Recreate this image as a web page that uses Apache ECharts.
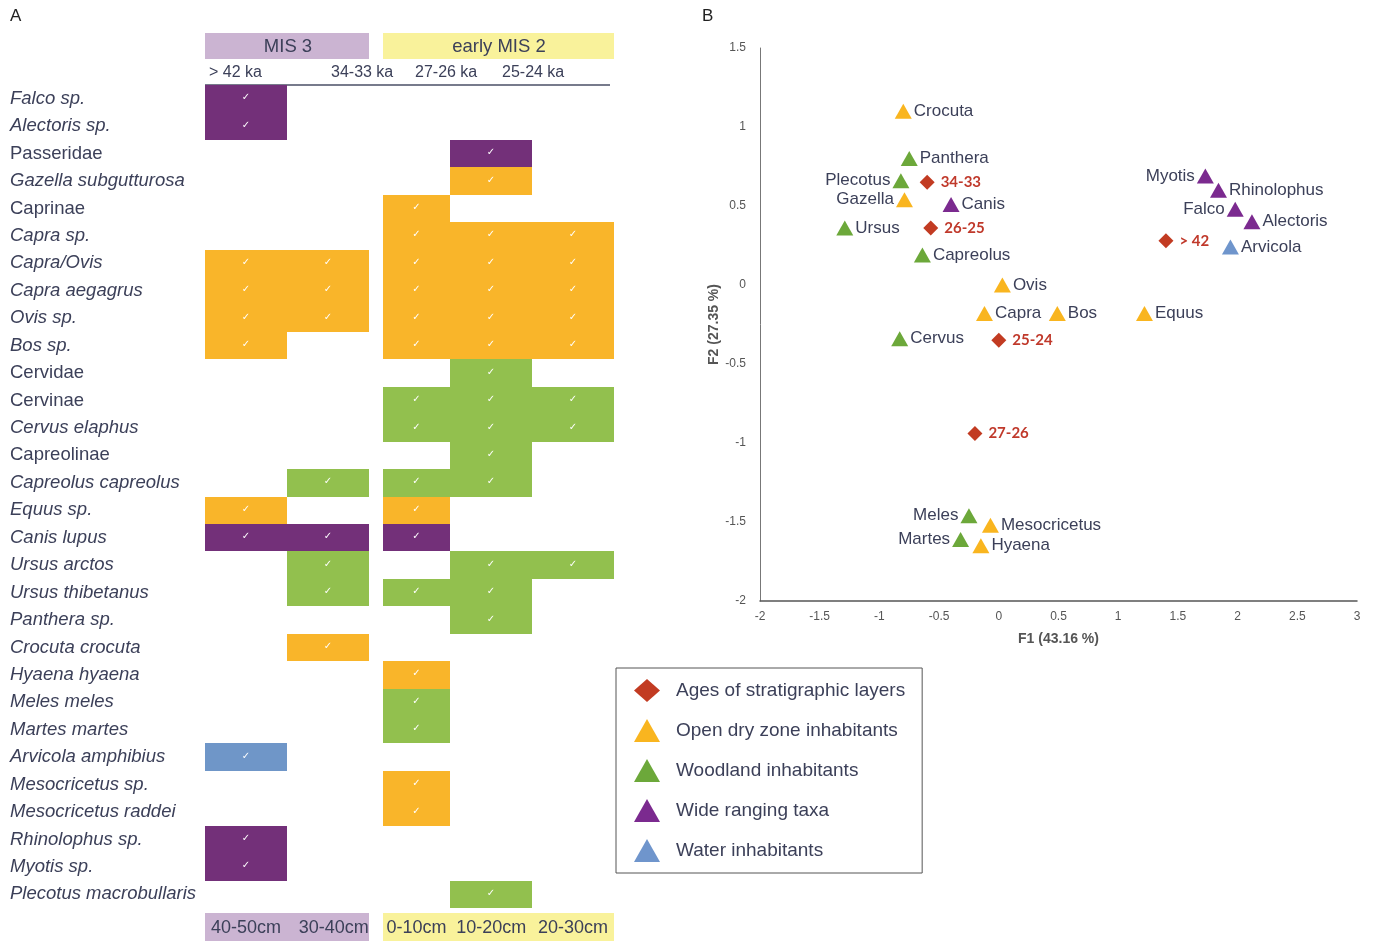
<!DOCTYPE html>
<html>
<head>
<meta charset="utf-8">
<script src="https://cdn.jsdelivr.net/npm/echarts@6/dist/echarts.min.js"></script>
<style>
  html, body { margin: 0; padding: 0; background: #fff; }
  #chart { width: 1374px; height: 943px; }
</style>
</head>
<body>
<div id="chart"></div>
<script>
// ---- Panel A: taxa presence by depth ----
const taxa = [
  'Falco sp.', 'Alectoris sp.', 'Passeridae', 'Gazella subgutturosa', 'Caprinae',
  'Capra sp.', 'Capra/Ovis', 'Capra aegagrus', 'Ovis sp.', 'Bos sp.',
  'Cervidae', 'Cervinae', 'Cervus elaphus', 'Capreolinae', 'Capreolus capreolus',
  'Equus sp.', 'Canis lupus', 'Ursus arctos', 'Ursus thibetanus', 'Panthera sp.',
  'Crocuta crocuta', 'Hyaena hyaena', 'Meles meles', 'Martes martes', 'Arvicola amphibius',
  'Mesocricetus sp.', 'Mesocricetus raddei', 'Rhinolophus sp.', 'Myotis sp.', 'Plecotus macrobullaris'
];
// higher-rank names are set upright, species in italics
const uprightTaxa = ['Passeridae', 'Caprinae', 'Cervidae', 'Cervinae', 'Capreolinae'];
const depths = ['40-50cm', '30-40cm', '0-10cm', '10-20cm', '20-30cm'];
const ageLabels = ['> 42 ka', '34-33 ka', '27-26 ka', '25-24 ka'];
// one letter per depth column: P wide ranging, O open dry, G woodland, B water, . absent
const presence = [
  'P....', 'P....', '...P.', '...O.', '..O..',
  '..OOO', 'OOOOO', 'OOOOO', 'OOOOO', 'O.OOO',
  '...G.', '..GGG', '..GGG', '...G.', '.GGG.',
  'O.O..', 'PPP..', '.G.GG', '.GGG.', '...G.',
  '.O...', '..O..', '..G..', '..G..', 'B....',
  '..O..', '..O..', 'P....', 'P....', '...G.'
];

// ---- Panel B: correspondence analysis scores (F1, F2) ----
const layers   = [['> 42', 1.40, 0.28], ['34-33', -0.60, 0.65], ['26-25', -0.57, 0.36],
                  ['25-24', 0.00, -0.35], ['27-26', -0.20, -0.94]];
const openDry  = [['Crocuta', -0.80, 1.10], ['Gazella', -0.79, 0.54], ['Ovis', 0.03, 0.00],
                  ['Capra', -0.12, -0.18], ['Bos', 0.49, -0.18], ['Equus', 1.22, -0.18],
                  ['Mesocricetus', -0.07, -1.52], ['Hyaena', -0.15, -1.65]];
const woodland = [['Panthera', -0.75, 0.80], ['Plecotus', -0.82, 0.66], ['Ursus', -1.29, 0.36],
                  ['Capreolus', -0.64, 0.19], ['Cervus', -0.83, -0.34], ['Meles', -0.25, -1.46],
                  ['Martes', -0.32, -1.61]];
const wideRanging = [['Canis', -0.40, 0.51], ['Myotis', 1.73, 0.69], ['Rhinolophus', 1.84, 0.60],
                     ['Falco', 1.98, 0.48], ['Alectoris', 2.12, 0.40]];
const water    = [['Arvicola', 1.94, 0.24]];
const labelOnLeft = ['Plecotus', 'Gazella', 'Myotis', 'Falco', 'Meles', 'Martes'];

const groupNames = ['Ages of stratigraphic layers', 'Open dry zone inhabitants',
                    'Woodland inhabitants', 'Wide ranging taxa', 'Water inhabitants'];

// colours
const cellColors = { P: '#733079', O: '#f9b52a', G: '#92c04e', B: '#6f96c8' };
const markColors = ['#c23b22', '#f9b51f', '#6ca83a', '#7b2a8f', '#6f95cc'];
const textColor = '#3c4059';
const sans = '"Liberation Sans", Arial, sans-serif';

const cells = [];
presence.forEach((row, r) => {
  row.split('').forEach((ch, c) => {
    if (ch !== '.') cells.push([c, r, ch]);
  });
});

function scatterData(list) {
  return list.map(d => ({
    name: d[0],
    value: [d[1], d[2]],
    label: { position: labelOnLeft.includes(d[0]) ? 'left' : 'right' }
  }));
}

const chart = echarts.init(document.getElementById('chart'));

const hdrY = 33, hdrH = 26, ftrY = 913, ftrH = 28;
const mis3Fill = '#cbb4d2', mis2Fill = '#f9f29b';
const ageStyle = { fontSize: 16, fill: textColor, fontFamily: sans, textVerticalAlign: 'middle' };
const depthShift = [0, 12, 14, 0, 0];

chart.setOption({
  animation: false,
  textStyle: { fontFamily: sans },
  grid: [
    { left: 205, top: 85, width: 409, height: 823 },
    { left: 760, top: 48, width: 597, height: 553 }
  ],
  xAxis: [
    {
      gridIndex: 0, type: 'category', data: depths, position: 'bottom',
      axisLine: { show: false }, axisTick: { show: false }, splitLine: { show: false },
      axisLabel: {
        interval: 0, margin: 11, fontSize: 18, color: textColor, fontFamily: sans,
        formatter: (v, i) => depthShift[i] ? '{s' + i + '|' + v + '}' : v,
        rich: {
          s1: { padding: [0, 0, 0, depthShift[1]], fontSize: 18, color: textColor, fontFamily: sans },
          s2: { padding: [0, 0, 0, depthShift[2]], fontSize: 18, color: textColor, fontFamily: sans }
        }
      }
    },
    {
      gridIndex: 1, type: 'value', min: -2, max: 3, interval: 0.5,
      axisLine: { onZero: false, lineStyle: { color: '#555', width: 1.5 } },
      axisTick: { show: false }, splitLine: { show: false },
      axisLabel: { fontSize: 12, color: '#555', margin: 10 },
      name: 'F1 (43.16 %)', nameLocation: 'middle', nameGap: 31,
      nameTextStyle: { fontSize: 14, fontWeight: 'bold', color: '#555' }
    }
  ],
  yAxis: [
    {
      gridIndex: 0, type: 'category', data: taxa, inverse: true,
      axisLine: { show: false }, axisTick: { show: false }, splitLine: { show: false },
      axisLabel: {
        align: 'left', margin: 195, interval: 0,
        formatter: v => (uprightTaxa.includes(v) ? '{n|' : '{i|') + v + '}',
        rich: {
          n: { fontSize: 18.5, color: textColor, fontFamily: sans },
          i: { fontSize: 18.5, color: textColor, fontFamily: sans, fontStyle: 'italic' }
        }
      }
    },
    {
      gridIndex: 1, type: 'value', min: -2, max: 1.5, interval: 0.5,
      axisLine: { show: true, onZero: false, lineStyle: { color: '#777', width: 1 } },
      axisTick: { show: false }, splitLine: { show: false },
      axisLabel: { fontSize: 12, color: '#555', margin: 14 },
      name: 'F2 (27.35 %)', nameLocation: 'middle', nameGap: 36,
      nameTextStyle: { fontSize: 14, fontWeight: 'bold', color: '#555' }
    }
  ],
  legend: {
    data: groupNames.map((n, i) => ({ name: n, icon: i === 0 ? 'diamond' : 'triangle' })),
    orient: 'vertical', left: 616, top: 668,
    padding: [11, 17, 11, 18], itemGap: 17, itemWidth: 26, itemHeight: 23,
    borderColor: '#555', borderWidth: 1,
    textStyle: { fontSize: 19, color: textColor, fontFamily: sans, padding: [0, 0, 0, 11] }
  },
  graphic: [
    { type: 'text', left: 10, top: 8, style: { text: 'A', fontSize: 17, fill: '#222', fontFamily: sans } },
    { type: 'text', left: 702, top: 8, style: { text: 'B', fontSize: 17, fill: '#222', fontFamily: sans } },
    { type: 'rect', z: -10, shape: { x: 205, y: hdrY, width: 164, height: hdrH }, style: { fill: mis3Fill } },
    { type: 'rect', z: -10, shape: { x: 383, y: hdrY, width: 231, height: hdrH }, style: { fill: mis2Fill } },
    { type: 'text', x: 288, y: hdrY + hdrH / 2 + 1, style: { text: 'MIS 3', fontSize: 18.5, fill: textColor, fontFamily: sans, textAlign: 'center', textVerticalAlign: 'middle' } },
    { type: 'text', x: 499, y: hdrY + hdrH / 2 + 1, style: { text: 'early MIS 2', fontSize: 18.5, fill: textColor, fontFamily: sans, textAlign: 'center', textVerticalAlign: 'middle' } },
    { type: 'text', x: 209, y: 73, style: Object.assign({ text: ageLabels[0] }, ageStyle) },
    { type: 'text', x: 331, y: 73, style: Object.assign({ text: ageLabels[1] }, ageStyle) },
    { type: 'text', x: 415, y: 73, style: Object.assign({ text: ageLabels[2] }, ageStyle) },
    { type: 'text', x: 502, y: 73, style: Object.assign({ text: ageLabels[3] }, ageStyle) },
    { type: 'line', shape: { x1: 205, y1: 85, x2: 610, y2: 85 }, style: { stroke: '#4a4f66', lineWidth: 1.5 } },
    { type: 'rect', z: -10, shape: { x: 205, y: ftrY, width: 164, height: ftrH }, style: { fill: mis3Fill } },
    { type: 'rect', z: -10, shape: { x: 383, y: ftrY, width: 231, height: ftrH }, style: { fill: mis2Fill } }
  ],
  series: [
    {
      type: 'custom', xAxisIndex: 0, yAxisIndex: 0, data: cells, silent: true,
      itemStyle: { opacity: 1 },
      renderItem(params, api) {
        const c = api.value(0), r = api.value(1);
        const k = cells[params.dataIndex][2];
        const p = api.coord([c, r]);
        const s = api.size([1, 1]);
        let left = p[0] - s[0] / 2, right = p[0] + s[0] / 2;
        if (c === 2) left += 14;
        const x0 = Math.round(left), x1 = Math.round(right);
        const y0 = Math.round(p[1] - s[1] / 2), y1 = Math.round(p[1] + s[1] / 2);
        return {
          type: 'group',
          children: [
            { type: 'rect', shape: { x: x0, y: y0, width: x1 - x0, height: y1 - y0 }, style: { fill: cellColors[k], opacity: 1 } },
            { type: 'text', x: (x0 + x1) / 2, y: p[1] - 1, style: { text: '\u2713', fill: '#fff', fontSize: 10, fontWeight: 'bold', fontFamily: '"DejaVu Sans", sans-serif', textAlign: 'center', textVerticalAlign: 'middle' } }
          ]
        };
      }
    },
    {
      name: groupNames[0], type: 'scatter', xAxisIndex: 1, yAxisIndex: 1,
      symbol: 'diamond', symbolSize: [15, 15], data: scatterData(layers),
      itemStyle: { color: markColors[0], opacity: 1 },
      label: { show: true, formatter: '{b}', distance: 6, fontSize: 15, fontWeight: 'bold', color: '#c0392b', fontFamily: 'Lato, sans-serif' }
    },
    ...[openDry, woodland, wideRanging, water].map((list, i) => ({
      name: groupNames[i + 1], type: 'scatter', xAxisIndex: 1, yAxisIndex: 1,
      symbol: 'triangle', symbolSize: [17, 15], data: scatterData(list),
      itemStyle: { color: markColors[i + 1], opacity: 1 },
      label: { show: true, formatter: '{b}', distance: 2, fontSize: 17, color: textColor, fontFamily: sans }
    }))
  ]
});
</script>
</body>
</html>
